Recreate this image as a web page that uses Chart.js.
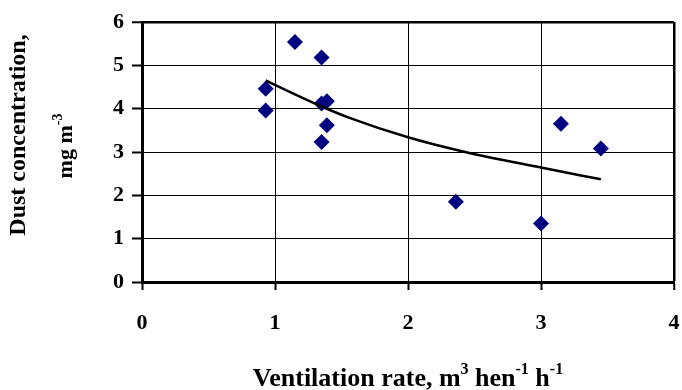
<!DOCTYPE html>
<html>
<head>
<meta charset="utf-8">
<script src="https://cdn.jsdelivr.net/npm/chart.js@4/dist/chart.umd.min.js"></script>
<style>
  body { margin: 0; background: #fff; }
  canvas { display: block; }
</style>
</head>
<body>
<canvas id="myChart" width="682" height="390"></canvas>
<script>
// measured points
const ventRate = [0.93, 0.93, 1.15, 1.35, 1.35, 1.39, 1.39, 1.35, 2.36, 3.0, 3.15, 3.45];
const dustConc = [4.46, 3.96, 5.54, 5.18, 4.12, 4.17, 3.62, 3.23, 1.85, 1.35, 3.65, 3.08];
// trend line
const trendX = [0.93, 1.15, 1.35, 1.55, 2.0, 2.43, 3.0, 3.45];
const trendY = [4.65, 4.33, 4.05, 3.80, 3.34, 3.00, 2.64, 2.37];
const xTicks = [0, 1, 2, 3, 4];
const yTicks = [0, 1, 2, 3, 4, 5, 6];

const serif = '"Liberation Serif", "Times New Roman", serif';

// text with superscript parts, centred on x, baseline at y
function richText(ctx, parts, x, y, rot, size) {
  const supSize = Math.round(size * 0.62);
  const rise = Math.round(size * 0.45);
  ctx.save();
  ctx.translate(x, y);
  ctx.rotate(rot);
  ctx.textBaseline = 'alphabetic';
  ctx.textAlign = 'left';
  ctx.fillStyle = '#000';
  let total = 0;
  for (const p of parts) {
    ctx.font = 'bold ' + (p.sup ? supSize : size) + 'px ' + serif;
    total += ctx.measureText(p.t).width;
  }
  let cx = -total / 2;
  for (const p of parts) {
    ctx.font = 'bold ' + (p.sup ? supSize : size) + 'px ' + serif;
    ctx.fillText(p.t, cx, p.sup ? -rise : 0);
    cx += ctx.measureText(p.t).width;
  }
  ctx.restore();
}

const axisTitles = {
  id: 'axisTitles',
  afterDraw(chart) {
    const ctx = chart.ctx;
    richText(ctx, [{ t: 'Ventilation rate, m' }, { t: '3', sup: true }, { t: ' hen' }, { t: '-1', sup: true }, { t: ' h' }, { t: '-1', sup: true }], 408, 386, 0, 26);
    richText(ctx, [{ t: 'Dust concentration,' }], 25, 135, -Math.PI / 2, 24);
    richText(ctx, [{ t: 'mg m' }, { t: '-3', sup: true }], 72, 146, -Math.PI / 2, 22);
  }
};

const ctx = document.getElementById('myChart').getContext('2d');
// eslint-disable-next-line no-undef
const chart = new Chart(ctx, {
  type: 'scatter',
  data: {
    datasets: [{
      label: 'Dust',
      data: ventRate.map((v, i) => ({ x: v, y: dustConc[i] })),
      pointStyle: 'rectRot',
      pointRadius: 8,
      pointHoverRadius: 8,
      backgroundColor: '#000080',
      borderColor: '#000080',
      borderWidth: 0,
      order: 2
    },
    {
      label: 'Trend',
      type: 'line',
      data: trendX.map((v, i) => ({ x: v, y: trendY[i] })),
      borderColor: '#000',
      borderWidth: 2.5,
      pointRadius: 0,
      fill: false,
      cubicInterpolationMode: 'monotone',
      order: 1
    }]
  },
  options: {
    responsive: false,
    animation: false,
    devicePixelRatio: 1,
    layout: { padding: { top: 22, right: 6, left: 0, bottom: 0 } },
    plugins: {
      legend: { display: false },
      tooltip: { enabled: false }
    },
    scales: {
      x: {
        type: 'linear',
        min: 0,
        max: 4,
        afterBuildTicks: (s) => { s.ticks = xTicks.map(v => ({ value: v })); },
        afterFit: (s) => { s.height = 108; s.paddingLeft = 0; s.paddingRight = 0; },
        grid: {
          color: '#000',
          lineWidth: (c) => (c.tick && c.tick.value === 4 ? 2.5 : 1),
          drawTicks: true,
          tickLength: 8,
          tickWidth: 2,
          tickColor: '#000'
        },
        border: { display: true, color: '#000', width: 3 },
        ticks: {
          color: '#000',
          padding: 20,
          font: { family: serif, size: 22, weight: 'bold' }
        }
      },
      y: {
        type: 'linear',
        min: 0,
        max: 6,
        afterBuildTicks: (s) => { s.ticks = yTicks.map(v => ({ value: v })); },
        afterFit: (s) => { s.width = 142; s.paddingTop = 0; s.paddingBottom = 0; },
        grid: {
          color: '#000',
          lineWidth: (c) => (c.tick && c.tick.value === 6 ? 2.5 : 1),
          drawTicks: true,
          tickLength: 10,
          tickWidth: 2,
          tickColor: '#000'
        },
        border: { display: true, color: '#000', width: 3 },
        ticks: {
          color: '#000',
          padding: 8,
          font: { family: serif, size: 22, weight: 'bold' }
        }
      }
    }
  },
  plugins: [axisTitles]
});
</script>
</body>
</html>
